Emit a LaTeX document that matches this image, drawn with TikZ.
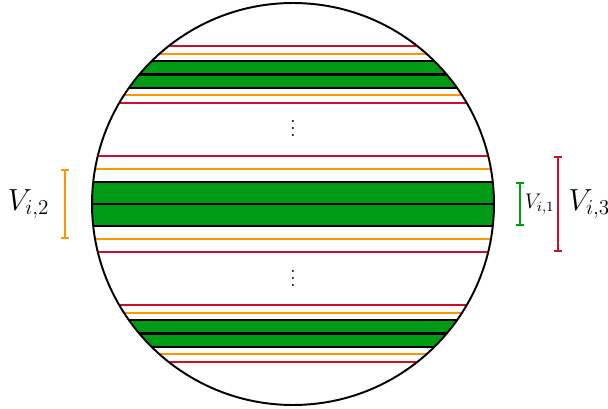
\documentclass[tikz,border=0pt]{standalone}
\usepackage{amsmath,amssymb}
\usetikzlibrary{arrows.meta}
\definecolor{bandgreen}{RGB}{0,155,20}
\definecolor{lorange}{RGB}{255,150,0}
\definecolor{lred}{RGB}{200,16,46}

\begin{document}
\begin{tikzpicture}[line width=1.1pt,lim/.style={line width=1.1pt,{Bar[width=4.5pt]}-{Bar[width=4.5pt]}},>=Stealth]
\useasboundingbox (-5.831,-4.06) rectangle (6.269,4.06);
\begin{scope}
\clip (0,0) circle (4);
\foreach \c/\s in {2.58/0.6,0/1,-2.58/0.6}{
  \draw[lred,line width=1.1pt] (-4.1,\c+0.955*\s)--(4.1,\c+0.955*\s) (-4.1,\c-0.955*\s)--(4.1,\c-0.955*\s);
  \draw[lorange,line width=1.1pt] (-4.1,\c+0.69*\s)--(4.1,\c+0.69*\s) (-4.1,\c-0.69*\s)--(4.1,\c-0.69*\s);
  \draw[fill=bandgreen] (-4.1,\c-0.44*\s) rectangle (4.1,\c+0.44*\s);
  \draw[line width=1.6pt] (-4.1,\c)--(4.1,\c);
}
\end{scope}
\draw (0,0) circle (4);
\node[font=\large] (d1) at (0,1.6) {$\vdots$};
\node[font=\large] (d2) at (0,-1.37) {$\vdots$};
% brackets
\coordinate (a1) at (-4.54,0.69);\coordinate (a2) at (-4.54,-0.69);
\coordinate (g1) at (4.52,0.44);\coordinate (g2) at (4.52,-0.44);
\coordinate (r1) at (5.28,0.955);\coordinate (r2) at (5.28,-0.955);
\draw[lim,lorange](a1)--(a2);
\draw[lim,bandgreen](g1)--(g2);
\draw[lim,lred](r1)--(r2);
\node (v2) at (-5.26,0) {\LARGE$V_{i,2}$};
\node[anchor=west,inner sep=1pt] (v1) at (4.56,0) {\large$V_{i,1}$};
\node[anchor=west,inner sep=1pt] (v3) at (5.43,0) {\LARGE$V_{i,3}$};
\end{tikzpicture}
\end{document}
